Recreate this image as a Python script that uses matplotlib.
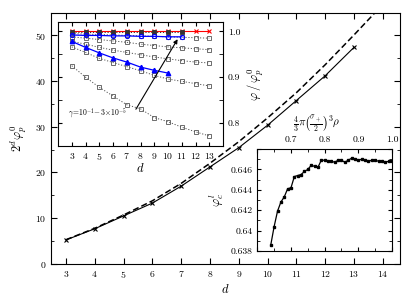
import numpy as np
import matplotlib
matplotlib.use('Agg')
import matplotlib.pyplot as plt
from matplotlib.ticker import MultipleLocator, FuncFormatter

plt.rcParams['font.family'] = 'cmr10'
plt.rcParams['mathtext.fontset'] = 'cm'
plt.rcParams['axes.unicode_minus'] = False
plt.rcParams['axes.formatter.use_mathtext'] = True

# main panel: 2^d phi_p^0 against d
d_sim = [3, 4, 5, 6, 7, 8, 9, 10, 11, 12, 13]
phi_sim = [5.25, 7.7, 10.5, 13.3, 17.0, 21.2, 25.4, 30.3, 35.7, 41.1, 47.3]
d_fit = [3, 4, 5, 6, 7, 8, 9, 10, 11, 12, 13, 13.75]
phi_fit = [5.3, 7.8, 10.7, 13.8, 17.6, 22.0, 26.7, 31.9, 37.4, 43.5, 50.0, 55.0]

# inset 1: phi/phi_p^0 against d for several gamma
d_in = [3, 4, 5, 6, 7, 8, 9, 10, 11, 12, 13]
gam_1 = [0.925, 0.900, 0.878, 0.859, 0.840, 0.831, 0.812, 0.803, 0.791, 0.781, 0.772]
gam_2 = [0.966, 0.954, 0.941, 0.932, 0.923, 0.914, 0.904, 0.896, 0.891, 0.886, 0.881]
gam_3 = [0.978, 0.972, 0.965, 0.959, 0.954, 0.949, 0.944, 0.940, 0.936, 0.933, 0.931]
gam_4 = [0.988, 0.985, 0.982, 0.979, 0.976, 0.972, 0.969, 0.966, 0.964, 0.962, 0.960]
gam_5 = [0.995, 0.994, 0.993, 0.992, 0.991, 0.990, 0.989, 0.988, 0.987, 0.986, 0.985]
d_blk = [3, 4, 5, 6, 7, 8, 9, 10, 11]
gam_6 = [0.999, 0.999, 0.999, 0.999, 0.999, 0.999, 0.999, 0.999, 0.999]
d_red = [3, 4, 5, 6, 7, 8, 9, 10, 11, 12, 13]
red_val = [1.0, 1.0, 1.0, 1.0, 1.0, 1.0, 1.0, 1.0, 1.0, 1.0, 1.0]
d_bc = [3, 4, 5, 6, 7, 8, 9, 10, 11]
blue_circ = [0.992, 0.991, 0.991, 0.990, 0.990, 0.989, 0.989, 0.988, 0.988]
d_bt = [3, 4, 5, 6, 7, 8, 9, 10]
blue_tri = [0.978, 0.965, 0.953, 0.942, 0.933, 0.922, 0.915, 0.909]

# inset 2: phi_c^l against packing fraction
pack = [0.64, 0.65, 0.66, 0.67, 0.68, 0.69, 0.70, 0.71, 0.72, 0.73, 0.74, 0.75,
        0.76, 0.77, 0.78, 0.79, 0.80, 0.81, 0.82, 0.83, 0.84, 0.85, 0.86, 0.87,
        0.88, 0.89, 0.90, 0.91, 0.92, 0.93, 0.94, 0.95, 0.96, 0.97, 0.98, 0.99, 1.00]
phi_cl = [0.6386, 0.6404, 0.6419, 0.6428, 0.6433, 0.6441, 0.6442, 0.6453, 0.6454,
          0.6455, 0.6458, 0.6460, 0.6464, 0.6463, 0.6462, 0.6469, 0.6469, 0.6468,
          0.6468, 0.6467, 0.6469, 0.6469, 0.6467, 0.6469, 0.6471, 0.6470, 0.6469,
          0.6470, 0.6469, 0.6468, 0.6469, 0.6469, 0.6468, 0.6468, 0.6467, 0.6468,
          0.6468]

fig = plt.figure(figsize=(4.15, 3.03), dpi=100)
ax = fig.add_axes([0.1229, 0.1287, 0.841, 0.8283])
ax.plot(d_fit, phi_fit, 'k--', lw=1.1, dashes=(4, 2))
ax.plot(d_sim, phi_sim, 'k-', lw=0.8, marker='x', ms=3.5, mew=0.8)
ax.set_xlim(2.48, 14.6)
ax.set_ylim(0, 54.8)
ax.set_xticks(range(3, 15))
ax.yaxis.set_major_locator(MultipleLocator(10))
ax.yaxis.set_minor_locator(MultipleLocator(5))
ax.tick_params(which='both', direction='in', top=True, right=True, labelsize=7)
ax.tick_params(which='major', length=4)
ax.tick_params(which='minor', length=2)
ax.set_xlabel('$d$', fontsize=9, labelpad=2)
ax.set_ylabel(r'$2^d\varphi_p^0$', fontsize=9, labelpad=4)

# inset 1
ax1 = fig.add_axes([0.1398, 0.518, 0.3976, 0.409])
dot = (0, (1.2, 1.8))
for vals in [gam_1, gam_2, gam_3, gam_4, gam_5]:
    ax1.plot(d_in, vals, color='#555555', ls=dot, lw=0.7, marker='s', ms=2.6,
             mfc='none', mew=0.6)
ax1.plot(d_red, red_val, color='red', lw=0.8, marker='x', ms=3, mew=0.8)
ax1.plot(d_blk, gam_6, color='#333333', ls=dot, lw=0.7, marker='s', ms=2.8,
         mfc='#333333', mew=0.6)
ax1.plot(d_bc, blue_circ, color='blue', lw=0.9, marker='o', ms=3, mfc='none', mew=0.8)
ax1.plot(d_bt, blue_tri, color='blue', lw=0.9, marker='^', ms=3.2)
ax1.annotate('', xy=(10.8, 0.988), xytext=(7.56, 0.825),
             arrowprops=dict(arrowstyle='-|>', color='k', lw=0.8, mutation_scale=6))
ax1.text(2.75, 0.822, r'$\gamma\!=\!10^{-1}\!-\!3\!\times\!10^{-5}$', fontsize=5.5,
         va='center', ha='left')
ax1.set_xlim(2, 14)
ax1.set_ylim(0.75, 1.02)
ax1.set_xticks(range(3, 14))
ax1.yaxis.set_major_locator(MultipleLocator(0.1))
ax1.yaxis.set_minor_locator(MultipleLocator(0.05))
ax1.yaxis.set_major_formatter(FuncFormatter(lambda v, p: '%.1f' % v))
ax1.tick_params(which='both', direction='in', top=True, right=True, left=True,
                labelleft=False, labelright=True, labelsize=7)
ax1.tick_params(which='major', length=3)
ax1.tick_params(which='minor', length=3)
ax1.yaxis.set_label_position('right')
ax1.set_ylabel(r'$\varphi\,/\,\varphi_p^0$', fontsize=9, labelpad=4)
ax1.set_xlabel('$d$', fontsize=9, labelpad=0)

# inset 2
ax2 = fig.add_axes([0.620, 0.1716, 0.3246, 0.3366])
ax2.plot(pack, phi_cl, 'k-', lw=0.9, marker='s', ms=1.6)
ax2.set_xlim(0.6, 1.0)
ax2.set_ylim(0.638, 0.648)
ax2.xaxis.set_major_locator(MultipleLocator(0.1))
ax2.xaxis.set_minor_locator(MultipleLocator(0.05))
ax2.yaxis.set_major_locator(MultipleLocator(0.002))
ax2.yaxis.set_minor_locator(MultipleLocator(0.001))
ax2.xaxis.set_major_formatter(FuncFormatter(lambda v, p: '' if v < 0.65 else '%.1f' % v))
ax2.yaxis.set_major_formatter(FuncFormatter(lambda v, p: '' if v > 0.647 else '%g' % round(v, 3)))
ax2.tick_params(which='both', direction='in', top=True, right=True, bottom=True,
                labeltop=True, labelbottom=False, labelsize=7)
ax2.tick_params(which='major', length=3)
ax2.tick_params(which='minor', length=2)
ax2.xaxis.set_label_position('top')
ax2.set_xlabel(r'$\frac{4}{3}\pi\left(\frac{\sigma_+}{2}\right)^3\rho$', fontsize=8,
               labelpad=0)
ax2.xaxis.set_label_coords(0.44, 1.22)
ax2.set_ylabel(r'$\varphi_c^l$', fontsize=9, labelpad=3)

fig.savefig('out.png', dpi=100)
